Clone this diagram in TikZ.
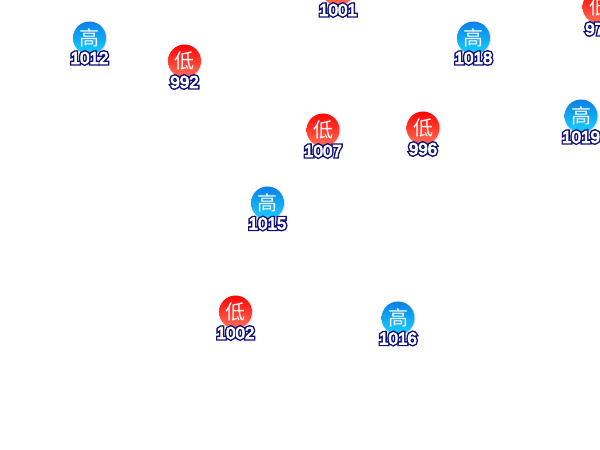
\documentclass[tikz,border=0pt]{standalone}
\usepackage{fontspec}
\setmainfont{Liberation Sans}
\newfontfamily\cjk{Noto Sans CJK SC}
\newfontfamily\numbold[FakeBold=22]{Liberation Sans}
\newfontfamily\numface[FakeBold=5]{Liberation Sans}
\definecolor{navy}{HTML}{10107A}
\definecolor{hitop}{HTML}{0A80E8}
\definecolor{hibot}{HTML}{18D0FF}
\definecolor{lotop}{HTML}{FF0505}
\definecolor{lobot}{HTML}{FF7058}
\newcommand{\outl}[1]{\fontsize{17}{17}\selectfont
  \rlap{\numbold\textcolor{navy}{#1}}{\numface\textcolor{white}{#1}}}
\tikzset{
  x=1pt,y=-1pt,
  disc/.style={circle,minimum size=33pt,inner sep=0pt,text=white,
    font=\cjk\fontsize{20}{20}\selectfont},
  hi/.style={disc,top color=hitop,bottom color=hibot},
  lo/.style={disc,top color=lotop,bottom color=lobot},
  val/.style={inner sep=0pt,anchor=center}
}
\newcommand{\station}[5]{% name, style, glyph, x, y
  \fill[black!12] (#4+.6,#5+.6) circle (17);
  \node[#2] (#1) at (#4,#5) {#3};}
\begin{document}
\begin{tikzpicture}
\useasboundingbox (0,0) rectangle (600,450);
\station{a}{hi}{高}{89.5}{38}
\station{b}{hi}{高}{473.5}{38}
\station{c}{hi}{高}{581}{116}
\station{d}{hi}{高}{267.5}{203}
\station{e}{hi}{高}{398}{318}
\station{f}{lo}{低}{184.5}{61}
\station{g}{lo}{低}{323}{130}
\station{h}{lo}{低}{423}{128}
\station{i}{lo}{低}{235.5}{312}
\station{j}{lo}{低}{599}{7}
\station{k}{lo}{低}{338}{-11}
\node[val] (la) at (89.5,58) {\outl{1012}};
\node[val] (lb) at (473.5,58) {\outl{1018}};
\node[val] (lc) at (581,137) {\outl{1019}};
\node[val] (ld) at (267.5,223.5) {\outl{1015}};
\node[val] (le) at (398,338.5) {\outl{1016}};
\node[val] (lf) at (184.5,82) {\outl{992}};
\node[val] (lg) at (323,151) {\outl{1007}};
\node[val] (lh) at (423,149) {\outl{996}};
\node[val] (li) at (235.5,333) {\outl{1002}};
\node[val,anchor=west] (lj) at (585,29) {\outl{97}};
\node[val] (lk) at (338,10) {\outl{1001}};
\end{tikzpicture}
\end{document}
